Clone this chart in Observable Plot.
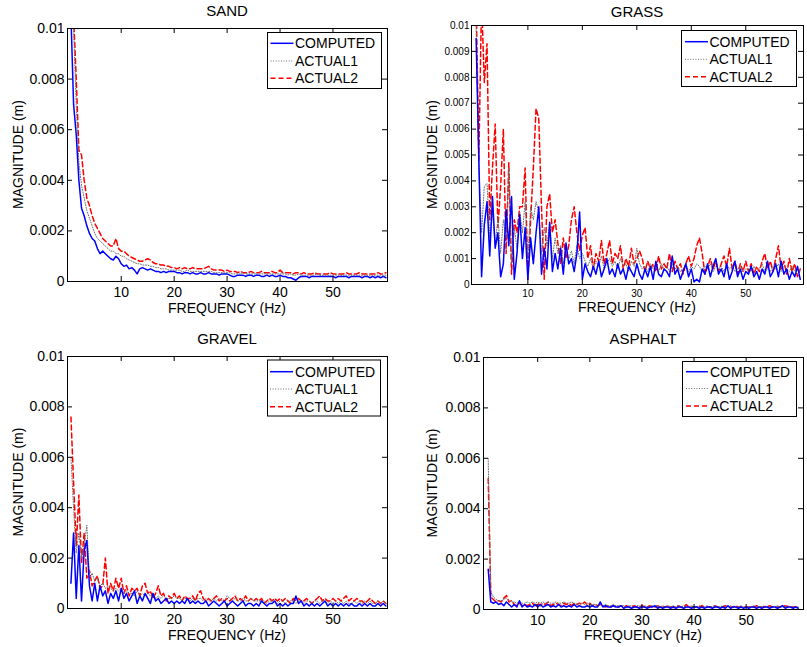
<!DOCTYPE html>
<html>
<head>
<meta charset="utf-8">
<script src="https://cdn.jsdelivr.net/npm/d3@7"></script>
<script src="https://cdn.jsdelivr.net/npm/@observablehq/plot@0.6"></script>
<style>
  html, body { margin: 0; padding: 0; background: #fff; }
  #wrap { position: relative; width: 807px; height: 647px; background: #fff; overflow: hidden; }
  #wrap > svg { position: absolute; }
</style>
</head>
<body>
<div id="wrap"></div>
<script>
// ---------------- DATA (magnitudes in units of 1e-4 m) ----------------
const FREQ = [
  0.5,1,1.5,2,2.5,3,3.5,4,4.5,5,
  5.5,6,6.5,7,7.5,8,8.5,9,9.5,10,
  10.5,11,11.5,12,12.5,13,13.5,14,14.5,15,
  15.5,16,16.5,17,17.5,18,18.5,19,19.5,20,
  20.5,21,21.5,22,22.5,23,23.5,24,24.5,25,
  25.5,26,26.5,27,27.5,28,28.5,29,29.5,30,
  30.5,31,31.5,32,32.5,33,33.5,34,34.5,35,
  35.5,36,36.5,37,37.5,38,38.5,39,39.5,40,
  40.5,41,41.5,42,42.5,43,43.5,44,44.5,45,
  45.5,46,46.5,47,47.5,48,48.5,49,49.5,50,
  50.5,51,51.5,52,52.5,53,53.5,54,54.5,55,
  55.5,56,56.5,57,57.5,58,58.5,59,59.5,60
];

const X_TICKS = [10, 20, 30, 40, 50];
const X_TICK_LABELS = ["10", "20", "30", "40", "50"];
const Y_TICKS_COARSE = [0, 0.002, 0.004, 0.006, 0.008, 0.01];
const Y_LABELS_COARSE = ["0", "0.002", "0.004", "0.006", "0.008", "0.01"];
const Y_TICKS_FINE = [0, 0.001, 0.002, 0.003, 0.004, 0.005, 0.006, 0.007, 0.008, 0.009, 0.01];
const Y_LABELS_FINE = ["0", "0.001", "0.002", "0.003", "0.004", "0.005", "0.006", "0.007", "0.008", "0.009", "0.01"];

const SERIES_NAMES = ["COMPUTED", "ACTUAL1", "ACTUAL2"];
const PANEL_TITLES = ["SAND", "GRASS", "GRAVEL", "ASPHALT"];

// SAND
const sandComputed = [
  105,70,58,40,29,26,22,19,17,16,
  13,11,12,11,10,9,8.5,10,9,7,
  6,6.5,5,5.5,4.5,3,5,5.5,5,4.5,
  5,4.5,4,4,3.5,4,3.5,4,4,4,
  3.5,3.5,3,3.5,3.5,3,3.5,3,3,3.5,
  3,3,3.5,3,3,3,2.5,3,3,3,
  2.5,2,2,2.5,2.5,2.5,2,2.5,2.5,2,
  2.5,2.5,2,2,2.5,2,2.5,2,2,2.5,
  2,2,1.5,1.5,1,0.5,1.5,2,2,2,
  1.5,2,2,2,2,2,2,2,2,2,
  1.5,2,2,2,2,1.5,2,2,2,2,
  1.5,2,2,1.5,2,1.5,2,1.5,2,1.5
];
const sandActual1 = [
  250,100,70,47,38,33,28,25,22,19,
  17,16,15,14,13,12,12,11,11,10,
  10,9,8.5,8,7.5,7,7,6.5,6.5,6.5,
  6,6,5.5,5.5,5,5,5,4.5,4.5,4.5,
  4.5,4.5,4,4,4.5,4,4,4,4,4,
  4,4,4,4,3.5,3.5,3.5,3.5,3.5,3.5,
  3.5,3,3,3,3,3.5,3,3,3,3,
  3,3,3,3,3,3,3,3,3,3,
  3,3,2.5,3,2.5,2.5,3,2.5,2.5,2.5,
  2.5,2.5,2.5,3,2.5,2.5,2.5,2.5,2.5,2.5,
  2.5,2.5,2.5,2.5,2.5,2.5,2.5,2.5,2.5,2.5,
  2.5,2.5,2.5,2.5,2.5,2.5,2.5,2.5,2.5,2.5
];
const sandActual2 = [
  300,105,80,52,50,40,33,30,26,23,
  21,19,17,16,15,14,14,17,13,12,
  12,11,10,9.5,9,8.5,8,8,8.5,9,
  8.5,7.5,7,7,6.5,6.5,6,6,5.5,5.5,
  5,5.5,5,5.5,5,5,5.5,5,5,5,
  5,5.5,6,5,4.5,4.5,4.5,4.5,4,4.5,
  4,4,4,3.5,4,3.5,3.5,3.5,4,3.5,
  3.5,3.5,4,3.5,3.5,3.5,4,3.5,3.5,4.5,
  3.5,3.5,3.5,3.5,3,3.5,3.5,3,3.5,3,
  3,3,3.5,3,3,3,3,3,3.5,3,
  3,3,3,3,3.5,3,3,3,3,3.5,
  3,3,3,3,3,3,3.5,3,3,3.5
];

// GRASS
const grassComputed = [
  95,48,3,23,32,11,34,14,20,3,
  8,29,15,34,2,12,27,10,22,2,
  18,8,20,30,4,14,6,24,5,12,
  6,14,4,16,8,10,5,12,28,2,
  8,5,3,7,4,9,3,6,10,4,
  6,3,8,4,6,2,7,5,3,8,
  4,2,6,3,7,2,9,4,3,6,
  5,3,11,4,6,2,5,8,3,6,
  1,2,1,6,4,8,3,7,10,4,
  6,3,8,2,5,9,3,6,2,5,
  4,7,3,5,2,6,4,9,3,5,
  8,3,9,4,6,2,5,3,7,2
];
const grassActual1 = [
  100,45,20,38,39,18,28,15,26,12,
  25,18,45,8,22,14,28,20,32,10,
  30,25,32,28,12,22,15,24,10,18,
  12,15,8,14,10,13,8,15,10,12,
  9,7,10,6,9,7,11,6,8,10,
  7,9,6,10,7,8,5,9,7,14,
  8,6,7,5,8,6,7,5,8,6,
  7,5,8,6,7,5,6,8,5,7,
  6,8,7,5,7,6,8,5,7,6,
  7,5,8,6,7,5,6,7,5,6,
  6,5,7,5,6,8,5,6,5,7,
  6,8,5,7,6,5,7,5,6,5
];
const grassActual2 = [
  110,48,110,78,93,25,45,62,22,38,
  60,12,47,4,25,20,30,30,45,2,
  25,45,68,64,30,2,30,35,20,25,
  16,8,18,10,15,25,30,20,13,19,
  22,10,15,6,12,9,17,8,12,17,
  8,12,10,15,6,10,7,14,8,10,
  13,10,5,9,6,8,5,11,6,8,
  6,12,5,9,6,8,4,8,11,7,
  10,15,18,12,4,7,10,6,9,5,
  8,11,7,14,6,9,4,8,5,9,
  5,8,4,7,5,9,12,6,9,5,
  10,15,6,9,4,10,5,8,3,6
];

// GRAVEL
const gravelComputed = [
  10,30,4,25,3,23,27,9,3,10,
  3,9,5,7,2,6,4,7,3,8,
  4,6,3,5,7,2,5,3,6,4,
  2,6,3,4,2,3,4,2,3,2,
  3,2,3,2,4,2,3,2,3,2,
  2,3,1,2,3,2,1,2,3,1,
  2,3,2,1,2,3,1,2,2,1,
  2,1,3,2,1,2,2,3,1,2,
  1,2,1,2,2,5,2,3,1,2,
  1,2,1,2,1,2,3,1,2,1,
  2,1,2,1,2,1,2,1,1,2,
  1,2,1,2,1,1,2,1,2,1
];
const gravelActual1 = [
  60,40,22,30,20,25,33,12,14,11,
  12,9,10,8,9,8,7,8,7,8,
  6,7,6,6,5,7,5,6,5,6,
  5,6,4,5,4,5,4,4,4,5,
  4,4,3,4,4,3,4,3,4,4,
  3,4,3,3,4,3,4,3,3,5,
  4,3,4,3,3,4,3,3,4,3,
  3,3,3,3,2,3,3,3,2,3,
  3,2,3,3,3,2,3,3,2,3,
  3,2,3,3,2,3,3,2,3,2,
  3,2,3,2,3,2,2,3,2,3,
  2,3,2,3,2,2,3,2,3,2
];
const gravelActual2 = [
  76,50,25,45,18,30,12,15,9,11,
  13,8,9,20,6,10,7,12,8,12,
  6,9,5,8,7,8,5,9,10,6,
  7,4,6,9,5,6,3,5,4,6,
  4,5,3,5,4,4,5,3,6,7,
  4,3,4,3,4,5,3,4,3,4,
  3,4,5,3,4,3,5,3,4,3,
  4,3,4,2,3,4,3,4,3,4,
  3,4,3,2,4,3,4,3,3,4,
  3,2,3,4,5,3,4,3,3,4,
  3,4,3,4,5,3,4,3,4,3,
  3,2,3,4,3,2,3,2,3,2
];

// ASPHALT
const asphaltComputed = [
  16,3,2.5,3,2,2.5,1.5,3,2,1,
  2,1,3.5,1,2,1,1.5,1,2,1,
  2,1,1.5,2,1,1.5,1,2,1,1.5,
  1,1.5,1,2,1,1.5,1,1,1.5,1,
  1.5,1,1,3,1,1.5,1,1,1.5,1,
  1,1.5,0.5,1,1,0.5,1,1,0.5,1,
  1,0.5,1,1,1.5,0.5,1,0.5,1,1,
  0.5,1,0.5,1,1,0.5,1,1,0.5,1,
  1,0.5,1,0.5,1,1,0.5,1,1,0.5,
  1,0.5,1.5,0.5,1,1,0.5,1,0.5,1,
  0.5,1,1,0.5,1,0.5,1,1,0.5,1,
  1,0.5,1,1.5,0.5,1,1,0.5,1,0.5
];
const asphaltActual1 = [
  60,7,5,4,3.5,3.5,4,4.5,3.5,3,
  3,2.5,3,2.5,2.5,3,2.5,3,2.5,3,
  2.5,3,2.5,3,2.5,2.5,3,2.5,2.5,3,
  2.5,2.5,3,2.5,2,2.5,2.5,2,2.5,2,
  2,2,1.5,2,1.5,2,1.5,1.5,2,1.5,
  1.5,1.5,1.5,1,1.5,1.5,1,1.5,1.5,1,
  1.5,1,1.5,1.5,1,1.5,1,1.5,1,1.5,
  1,1.5,1,1.5,1,1.5,1,1,1.5,1,
  1,1.5,1,1,1.5,1,1,1.5,1,1,
  1.5,1,1,1.5,1,1,1,1.5,1,1,
  1,1,1.5,1,1,1,1.5,1,1,1,
  1,1.5,1,1,1,1.5,1,1,1,1
];
const asphaltActual2 = [
  52,5,4,3,3.5,3,4.5,5.5,3,3.5,
  2,1.5,2.5,1.5,2,1.5,2,2.5,1.5,2.5,
  1.5,2.5,2,3,1.5,2,2.5,2,1.5,2.5,
  2,2.5,1.5,2.5,2,2.5,2,3,2,2.5,
  1.5,2,1.5,2,1.5,1,1.5,1,1.5,1,
  1,1.5,1,1.5,1,1,1.5,1,1,1.5,
  1,1,1.5,1,1,1.5,1,1,1,1.5,
  1,1,1,1.5,1,1,2,1,1,1,
  1,1,1.5,1,1,1,1,1.5,1,1,
  1,1.5,1,1,1,1.5,1,1,1,1,
  1,1,1,1.5,1,1,1,1,1.5,1,
  1,1,1,1,1.5,1,1,1,1,1
];

// ---------------- LAYOUT / STYLE ----------------
const FONT = "'Liberation Sans', Arial, Helvetica, sans-serif";
const COLORS = {COMPUTED: "#0000ff", ACTUAL1: "#6e6e6e", ACTUAL2: "#ff0000"};
const DASH = {COMPUTED: null, ACTUAL1: "1,1.6", ACTUAL2: "5,3"};
const WIDTH = {COMPUTED: 1.5, ACTUAL1: 1, ACTUAL2: 1.5};

const panels = [
  {title: PANEL_TITLES[0], left: 0,   top: 0,   w: 403, h: 323, mL: 67, mR: 16, mT: 28, mB: 42,
   xdom: [-0.15, 60.3], yt: Y_TICKS_COARSE, yl: Y_LABELS_COARSE, yfs: 14, xfs: 14, xpad: 5.5, ypad: 3,
   series: [sandComputed, sandActual1, sandActual2],
   titleY: 10, xlabY: 307.5, ylabX: 18, legend: {x: 267, y: 32, w: 114, h: 56, rows: [43.3, 61, 78.3], lx1: 270.5, lx2: 293.5, tx: 295}},
  {title: PANEL_TITLES[1], left: 403, top: 0,   w: 404, h: 323, mL: 68, mR: 4, mT: 25, mB: 39,
   xdom: [-0.35, 60.6], yt: Y_TICKS_FINE, yl: Y_LABELS_FINE, yfs: 10, xfs: 10, xpad: 5, ypad: 2,
   series: [grassComputed, grassActual1, grassActual2],
   titleY: 11, xlabY: 306.5, ylabX: 432, legend: {x: 681, y: 30, w: 115, h: 56, rows: [41.7, 59.3, 76.7], lx1: 685, lx2: 708, tx: 709.5}},
  {title: PANEL_TITLES[2], left: 0,   top: 323, w: 403, h: 324, mL: 67, mR: 16, mT: 33, mB: 39,
   xdom: [-0.15, 60.3], yt: Y_TICKS_COARSE, yl: Y_LABELS_COARSE, yfs: 14, xfs: 14, xpad: 6, ypad: 3,
   series: [gravelComputed, gravelActual1, gravelActual2],
   titleY: 338, xlabY: 635, ylabX: 18, legend: {x: 267, y: 359.5, w: 113, h: 56, rows: [371.7, 389, 406.7], lx1: 270, lx2: 293, tx: 295}},
  {title: PANEL_TITLES[3], left: 403, top: 323, w: 404, h: 324, mL: 80, mR: 4, mT: 34, mB: 38,
   xdom: [-0.4, 61.0], yt: Y_TICKS_COARSE, yl: Y_LABELS_COARSE, yfs: 14, xfs: 14, xpad: 6, ypad: 3,
   series: [asphaltComputed, asphaltActual1, asphaltActual2],
   titleY: 338, xlabY: 635, ylabX: 432, legend: {x: 682, y: 361, w: 114, h: 55, rows: [371.7, 388.5, 406], lx1: 686, lx2: 708, tx: 710}}
];

const wrap = document.getElementById("wrap");
const TICK = 5;

for (const p of panels) {
  const rows = [];
  p.series.forEach((vals, si) => {
    vals.forEach((v, i) => rows.push({f: FREQ[i], m: v * 1e-4, s: SERIES_NAMES[si]}));
  });
  const bySeries = name => rows.filter(r => r.s === name);
  const lineMark = name => Plot.line(bySeries(name), {
    x: "f", y: "m", stroke: COLORS[name], strokeWidth: WIDTH[name],
    strokeDasharray: DASH[name], clip: true, strokeLinejoin: "round"
  });
  const ylab = new Map(p.yt.map((t, i) => [t, p.yl[i]]));
  const xlab = new Map(X_TICKS.map((t, i) => [t, X_TICK_LABELS[i]]));
  const [x0, x1] = p.xdom;
  const chart = Plot.plot({
    width: p.w, height: p.h,
    marginLeft: p.mL, marginRight: p.mR, marginTop: p.mT, marginBottom: p.mB,
    style: {fontFamily: FONT, fontSize: "14px", color: "#000", background: "transparent", overflow: "visible"},
    x: {domain: p.xdom},
    y: {domain: [0, 0.01]},
    marks: [
      lineMark("ACTUAL2"),
      lineMark("ACTUAL1"),
      lineMark("COMPUTED"),
      // tick labels
      Plot.axisX({ticks: X_TICKS, tickSize: 0, tickPadding: p.xpad, tickFormat: d => xlab.get(d), label: null, fontSize: p.xfs, fill: "#000"}),
      Plot.axisY({ticks: p.yt, tickSize: 0, tickPadding: p.ypad, tickFormat: d => ylab.get(d), label: null, fontSize: p.yfs, fill: "#000"}),
      // inward tick marks on all four sides
      Plot.ruleX(X_TICKS, {x: d => d, y1: 0, y2: 0, insetTop: -TICK, stroke: "#000"}),
      Plot.ruleX(X_TICKS, {x: d => d, y1: 0.01, y2: 0.01, insetBottom: -TICK, stroke: "#000"}),
      Plot.ruleY(p.yt, {y: d => d, x1: x0, x2: x0, insetRight: -TICK, stroke: "#000"}),
      Plot.ruleY(p.yt, {y: d => d, x1: x1, x2: x1, insetLeft: -TICK, stroke: "#000"}),
      Plot.frame({stroke: "#000", strokeWidth: 1})
    ]
  });
  chart.style.left = p.left + "px";
  chart.style.top = p.top + "px";
  chart.style.maxWidth = "none";
  wrap.appendChild(chart);
}

// Overlay: titles, axis titles, legends
const svg = d3.select(wrap).append("svg")
  .attr("width", 807).attr("height", 647)
  .style("left", "0px").style("top", "0px")
  .style("pointer-events", "none")
  .style("font-family", FONT);

for (const p of panels) {
  const cx = p.left + p.mL + (p.w - p.mL - p.mR) / 2;
  const cy = p.top + p.mT + (p.h - p.mT - p.mB) / 2;
  svg.append("text").attr("x", cx).attr("y", p.titleY).attr("text-anchor", "middle")
    .attr("dominant-baseline", "central").attr("font-size", 15).text(p.title);
  svg.append("text").attr("x", cx).attr("y", p.xlabY).attr("text-anchor", "middle")
    .attr("dominant-baseline", "central").attr("font-size", 14).text("FREQUENCY (Hz)");
  svg.append("text").attr("transform", `translate(${p.ylabX},${cy}) rotate(-90)`)
    .attr("text-anchor", "middle").attr("dominant-baseline", "central")
    .attr("font-size", 14).text("MAGNITUDE (m)");
  const L = p.legend;
  svg.append("rect").attr("x", L.x + 0.5).attr("y", L.y + 0.5).attr("width", L.w).attr("height", L.h)
    .attr("fill", "#fff").attr("stroke", "#000").attr("stroke-width", 1);
  SERIES_NAMES.forEach((name, i) => {
    svg.append("line").attr("x1", L.lx1).attr("x2", L.lx2).attr("y1", L.rows[i]).attr("y2", L.rows[i])
      .attr("stroke", COLORS[name]).attr("stroke-width", WIDTH[name])
      .attr("stroke-dasharray", DASH[name]);
    svg.append("text").attr("x", L.tx).attr("y", L.rows[i]).attr("dominant-baseline", "central")
      .attr("font-size", 14).text(name);
  });
}
</script>
</body>
</html>
